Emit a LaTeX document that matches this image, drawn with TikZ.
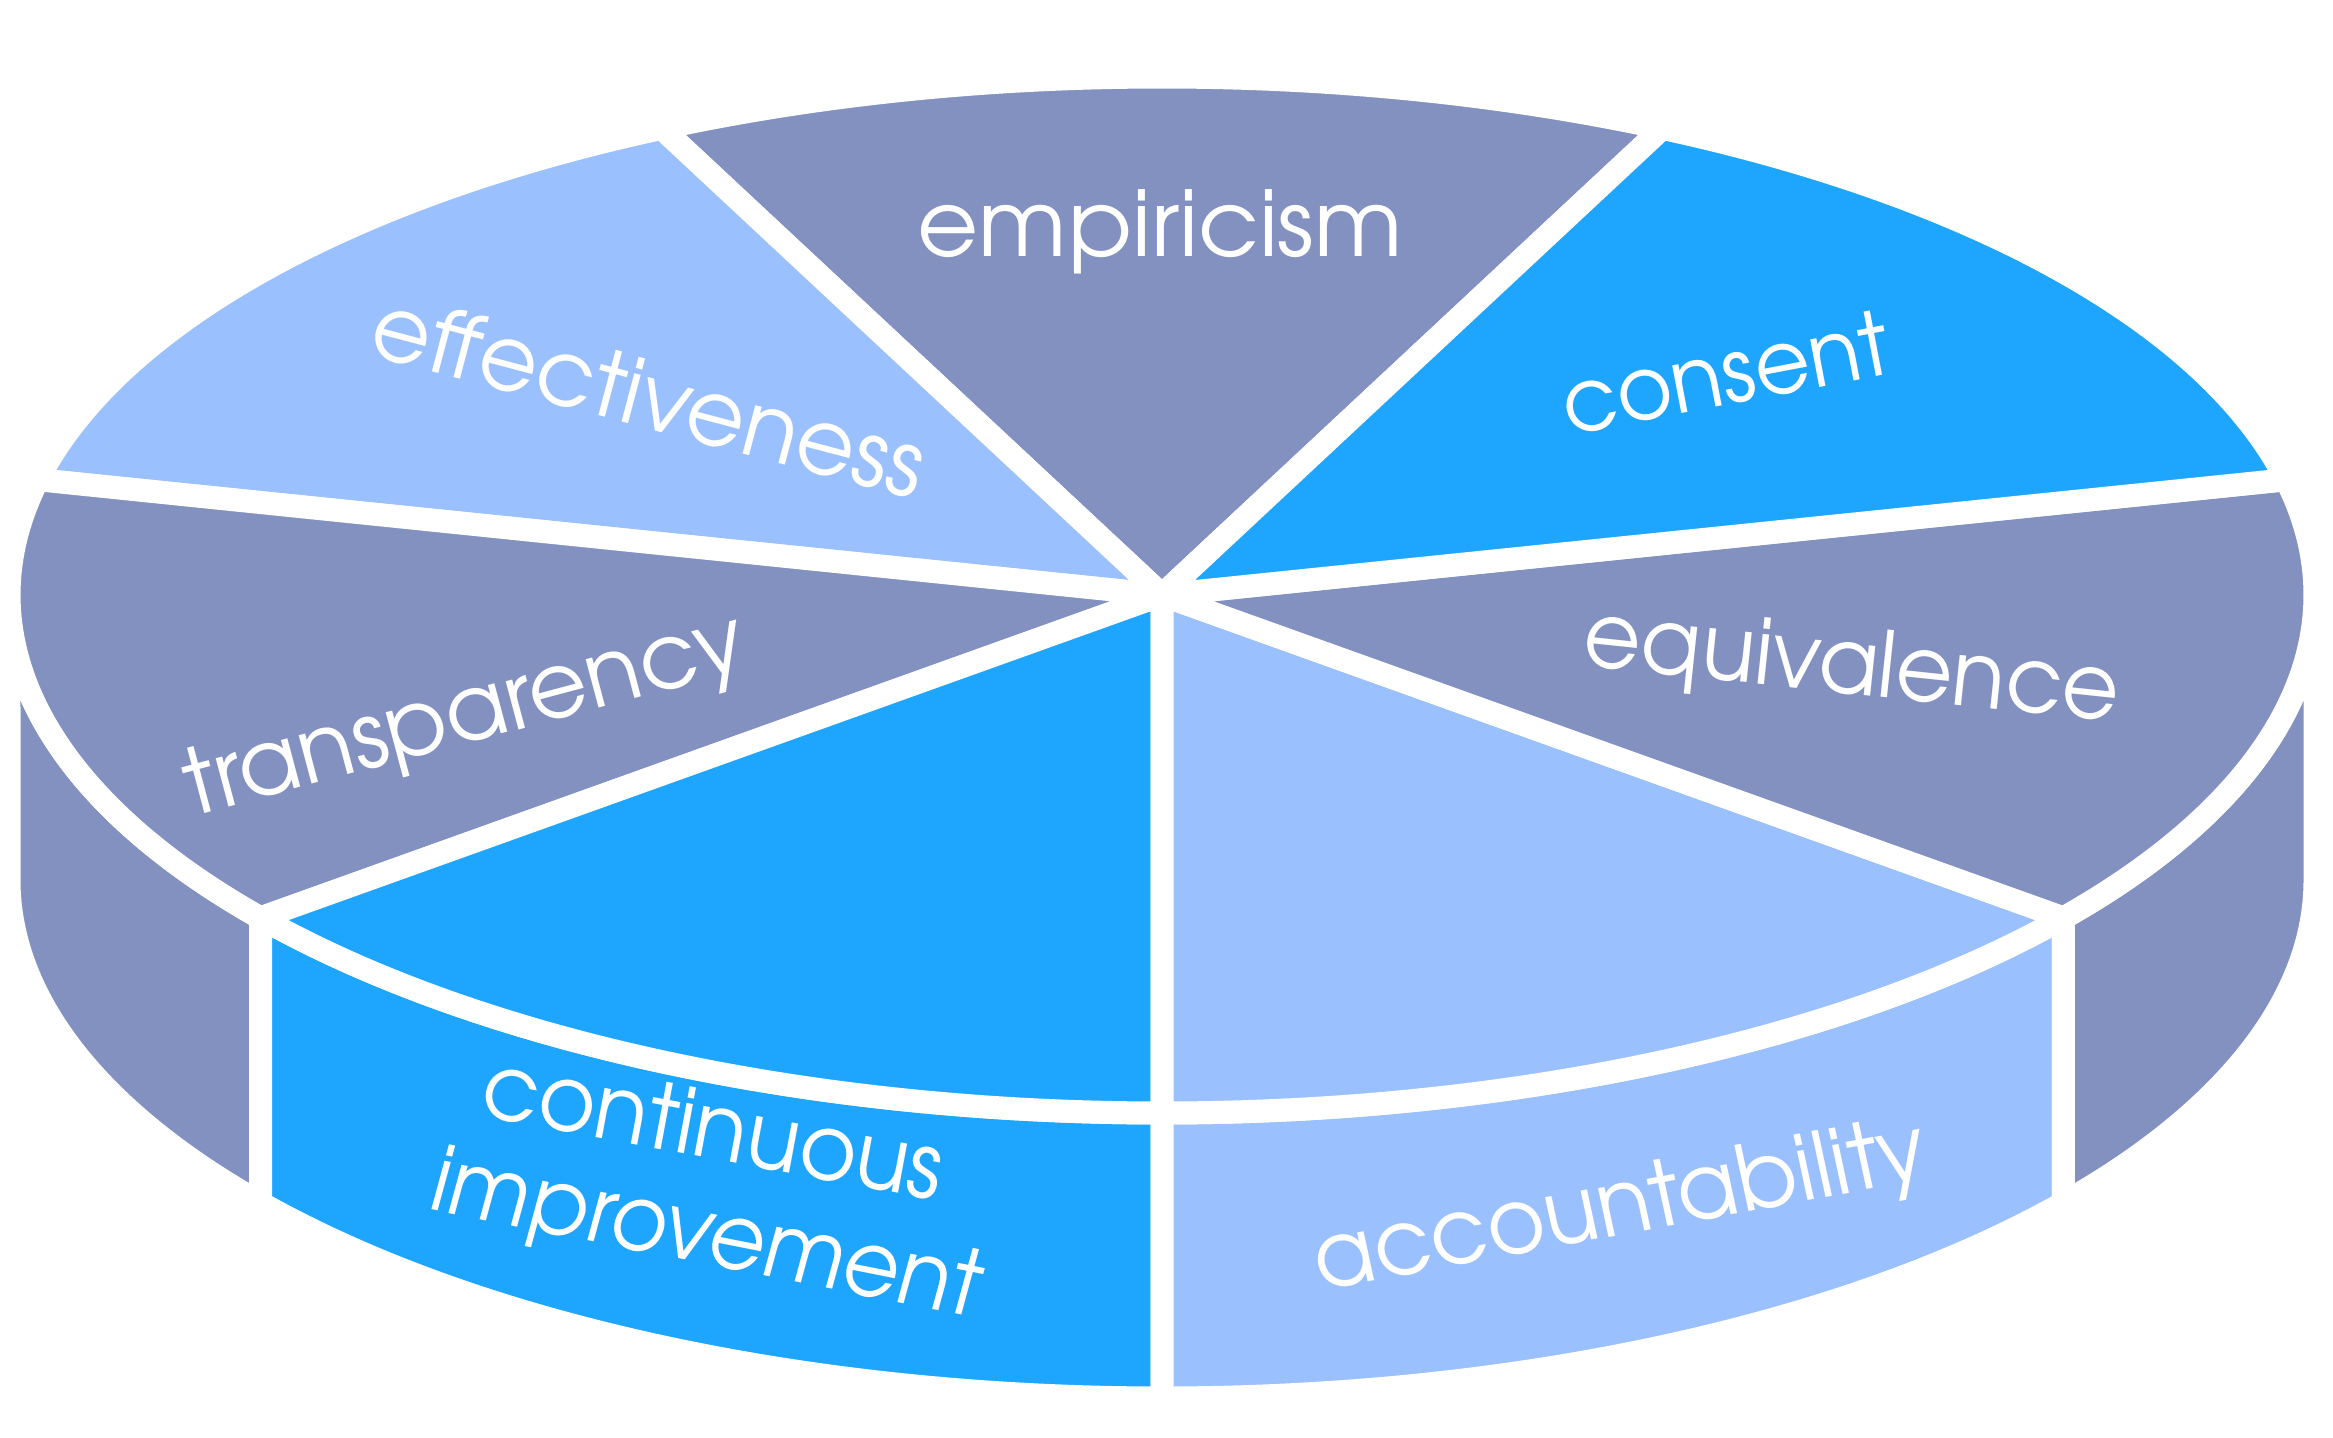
\documentclass[tikz,border=0pt]{standalone}
\usepackage{fontspec}
\setmainfont{texgyreadventor-regular.otf}
\usetikzlibrary{calc}
\definecolor{slateblue}{RGB}{130,145,192}
\definecolor{skyblue}{RGB}{30,166,254}
\definecolor{paleblue}{RGB}{155,192,254}

\begin{document}
\begin{tikzpicture}[
  label/.style={text=white, font=\fontsize{26}{26}\selectfont, inner sep=0pt, anchor=base},
  face/.style={draw=white, line width=0.23cm, line join=round},
]
\useasboundingbox (0,0) rectangle (23.33,14.38);
\def\rx{11.53}\def\ry{5.18}
% centre of the top face and of the bottom face
\coordinate (C) at (11.62,8.43);
\coordinate (B) at (11.62,5.58);

% a slice of the top face: colour, start angle, end angle
\newcommand\topwedge[3]{%
  \path[face, fill=#1] (C) -- ($(C)+({\rx*cos(#2)},{\ry*sin(#2)})$)
    arc[start angle=#2, end angle=#3, x radius=\rx, y radius=\ry] -- cycle;}
% the visible outer wall of a slice
\newcommand\sidewall[3]{%
  \path[face, fill=#1] ($(C)+({\rx*cos(#2)},{\ry*sin(#2)})$)
    arc[start angle=#2, end angle=#3, x radius=\rx, y radius=\ry]
    -- ($(B)+({\rx*cos(#3)},{\ry*sin(#3)})$)
    arc[start angle=#3, end angle=#2, x radius=\rx, y radius=\ry] -- cycle;}

% walls
\sidewall{slateblue}{180}{218.5714}
\sidewall{skyblue}{218.5714}{270}
\sidewall{paleblue}{270}{321.4286}
\sidewall{slateblue}{321.4286}{360}

% top face
\topwedge{slateblue}{64.2857}{115.7143}
\topwedge{paleblue}{115.7143}{167.1429}
\topwedge{slateblue}{167.1429}{218.5714}
\topwedge{skyblue}{218.5714}{270}
\topwedge{paleblue}{270}{321.4286}
\topwedge{slateblue}{321.4286}{372.8571}
\topwedge{skyblue}{12.8571}{64.2857}

% labels
\node[label, xscale=1.03] (empiricism) at (11.60,11.81) {empiricism};
\node[label, rotate=-14.8, xscale=0.99] (effectiveness) at (6.41,10.11) {effectiveness};
\node[label, rotate=10.8, xscale=0.93, yscale=0.97] (consent) at (17.31,10.34) {consent};
\node[label, rotate=-6.0, xscale=0.96] (equivalence) at (18.49,7.445) {equivalence};
\node[label, rotate=14.9, xscale=0.99] (transparency) at (4.72,6.96) {transparency};
\node[label, rotate=-10.5, xscale=0.96] (continuous) at (7.08,2.80) {continuous};
\node[label, rotate=-11.2, xslant=0.07, xscale=0.945] (improvement) at (7.00,1.75) {improvement};
\node[label, rotate=10.4, xslant=-0.03, xscale=0.97] (accountability) at (16.26,2.04) {accountability};
\end{tikzpicture}
\end{document}
